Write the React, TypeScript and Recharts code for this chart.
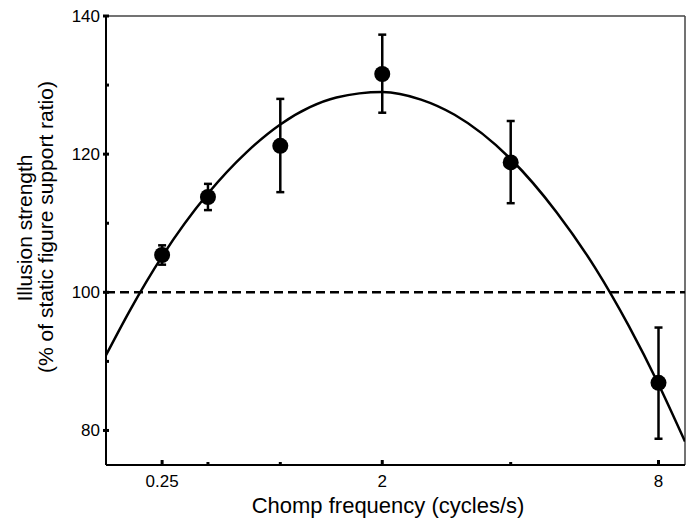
import { ComposedChart, Line, Scatter, ErrorBar, XAxis, YAxis, ReferenceLine, Label } from "recharts";

// measured points (chomp frequency in cycles/s)
const freqs = [0.25, 0.5, 1, 2, 4, 8];
const means = [105.4, 113.8, 121.2, 131.6, 118.8, 86.9];
const errLow = [104.0, 111.9, 114.5, 126.0, 112.9, 78.8];
const errHigh = [106.8, 115.7, 128.0, 137.3, 124.8, 94.9];

// fitted curve
const fitFreqs = [0, 0.1, 0.25, 0.5, 0.75, 1, 1.25, 1.5, 2, 2.5, 3, 4, 5, 6, 7, 8, 9];
const fitValues = [90.9, 97.4, 105.2, 114.3, 120.3, 124.3, 126.8, 128.2, 129.0, 127.9, 125.7, 119.3, 111.6, 103.5, 95.1, 86.7, 78.4];

const xTickFreqs = [0.25, 0.5, 1, 2, 4, 8];
const xLabelFreqs = [0.25, 2, 8];
const yTicks = [80, 90, 100, 110, 120, 130, 140];
const yLabelTicks = [80, 100, 120, 140];

const FONT = '"Liberation Sans", Arial, Helvetica, sans-serif';

// axis is log(f + 1)
const points = freqs.map((f, i) => ({
  x: f + 1,
  y: means[i],
  err: [means[i] - errLow[i], errHigh[i] - means[i]],
}));
const fitRows = fitFreqs.map((f, i) => ({ x: f + 1, y: fitValues[i] }));

function XTick({ x, y, payload }: any) {
  const f = Math.round((payload.value - 1) * 100) / 100;
  const major = xLabelFreqs.includes(f);
  return (
    <g>
      <line x1={x} x2={x} y1={y} y2={y - (major ? 5 : 3)} stroke="#000" strokeWidth={3} />
      {major && (
        <text x={x} y={y + 16} textAnchor="middle" dominantBaseline="central" fontSize={17} fontFamily={FONT} fill="#000">
          {f}
        </text>
      )}
    </g>
  );
}

function YTick({ x, y, payload }: any) {
  const v = payload.value;
  const major = yLabelTicks.includes(v);
  return (
    <g>
      <line x1={major ? x - 3 : x - 1} x2={x + 3} y1={y} y2={y} stroke="#000" strokeWidth={3} />
      {major && (
        <text x={x - 6} y={y} textAnchor="end" dominantBaseline="central" fontSize={17} fontFamily={FONT} fill="#000">
          {v}
        </text>
      )}
    </g>
  );
}

function YTitle() {
  return (
    <g fontFamily={FONT} fontSize={21} fill="#000">
      <text transform="translate(24,228) rotate(-90)" textAnchor="middle" dominantBaseline="central">
        Illusion strength
      </text>
      <text transform="translate(45,227) rotate(-90)" textAnchor="middle" dominantBaseline="central">
        (% of static figure support ratio)
      </text>
    </g>
  );
}

export default function App() {
  return (
    <div style={{ position: "absolute", left: 0, top: 0, background: "#fff" }}>
      <ComposedChart width={697} height={518} margin={{ top: 16, right: 12, left: 0, bottom: 0 }}>
        <XAxis
          type="number"
          dataKey="x"
          scale="log"
          domain={[1, 10]}
          allowDataOverflow
          ticks={xTickFreqs.map((f) => f + 1)}
          interval={0}
          tick={(p: any) => <XTick {...p} />}
          tickLine={false}
          tickSize={0}
          tickMargin={0}
          axisLine={{ stroke: "#000", strokeWidth: 2 }}
          height={53}
        >
          <Label
            content={() => (
              <text x={388} y={505} textAnchor="middle" dominantBaseline="central" fontSize={22} fontFamily={FONT} fill="#000">
                Chomp frequency (cycles/s)
              </text>
            )}
          />
        </XAxis>
        <YAxis
          type="number"
          domain={[75, 140]}
          allowDataOverflow
          ticks={yTicks}
          interval={0}
          tick={(p: any) => <YTick {...p} />}
          tickLine={false}
          tickSize={0}
          tickMargin={0}
          axisLine={{ stroke: "#000", strokeWidth: 2 }}
          width={106}
        >
          <Label content={() => <YTitle />} />
        </YAxis>
        <ReferenceLine y={140} stroke="#444" strokeWidth={1.5} />
        <ReferenceLine x={10} stroke="#444" strokeWidth={1.5} />
        <ReferenceLine y={100} stroke="#000" strokeWidth={2.5} strokeDasharray="9 5" />
        <Line
          data={fitRows}
          dataKey="y"
          type="monotone"
          dot={false}
          activeDot={false}
          stroke="#000"
          strokeWidth={2.5}
          isAnimationActive={false}
        />
        <Scatter
          data={points}
          dataKey="y"
          fill="#000"
          isAnimationActive={false}
          shape={(p: any) => <circle cx={p.cx} cy={p.cy} r={8} fill="#000" />}
        >
          <ErrorBar dataKey="err" direction="y" width={4} stroke="#000" strokeWidth={2.5} isAnimationActive={false} />
        </Scatter>
      </ComposedChart>
    </div>
  );
}
